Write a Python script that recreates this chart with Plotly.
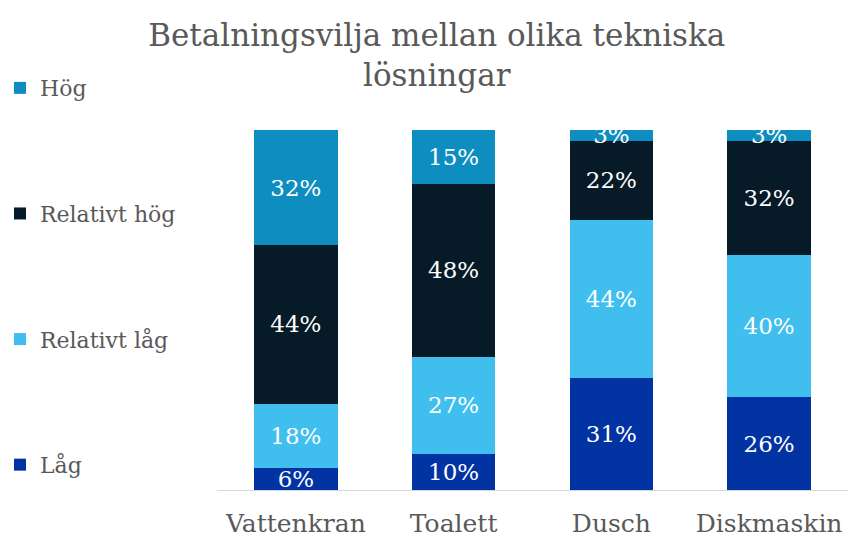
import plotly.graph_objects as go

categories = ["Vattenkran", "Toalett", "Dusch", "Diskmaskin"]
series_names = ["Låg", "Relativt låg", "Relativt hög", "Hög"]
lag = [6, 10, 31, 26]
relativt_lag = [18, 27, 44, 40]
relativt_hog = [44, 48, 22, 32]
hog = [32, 15, 3, 3]
colors = ["#0233A3", "#40BFEF", "#071A27", "#0E8EC0"]
ranks = [4, 3, 2, 1]

FONT = "DejaVu Serif"
values = [lag, relativt_lag, relativt_hog, hog]

fig = go.Figure()
for i, (name, vals) in enumerate(zip(series_names, values)):
    fig.add_trace(go.Bar(
        x=categories, y=vals, name=name,
        marker=dict(color=colors[i], line=dict(width=0)),
        text=[f"{v}%" for v in vals],
        textposition="inside", insidetextanchor="middle",
        constraintext="none", cliponaxis=True,
        textfont=dict(family=FONT, size=23, color="white"),
        legendgroup=name, legendrank=ranks[i],
        hoverinfo="skip",
    ))

fig.update_layout(
    width=848, height=539,
    barmode="stack", barnorm="percent", bargap=0.47,
    plot_bgcolor="white", paper_bgcolor="white",
    margin=dict(l=217, r=0, t=130, b=49),
    title=dict(text="Betalningsvilja mellan olika tekniska<br>lösningar",
               x=0.515, xanchor="center", y=0.915, yanchor="top",
               font=dict(family=FONT, size=31, color="#595959")),
    legend=dict(traceorder="grouped", tracegroupgap=94,
                xref="container", yref="container", x=0.0, y=0.8756,
                xanchor="left", yanchor="top", maxheight=539,
                font=dict(family=FONT, size=22, color="#595959"),
                itemwidth=30),
    xaxis=dict(showline=True, linecolor="#D9D9D9", linewidth=1,
               tickfont=dict(family=FONT, size=25, color="#595959"),
               ticks="", showgrid=False, ticklabelstandoff=11,
               automargin=False),
    yaxis=dict(visible=False, range=[0, 100], showgrid=False,
               automargin=False),
)

fig.write_html("out.html", config={"displayModeBar": False},
               post_script="document.body.style.margin='0';")
